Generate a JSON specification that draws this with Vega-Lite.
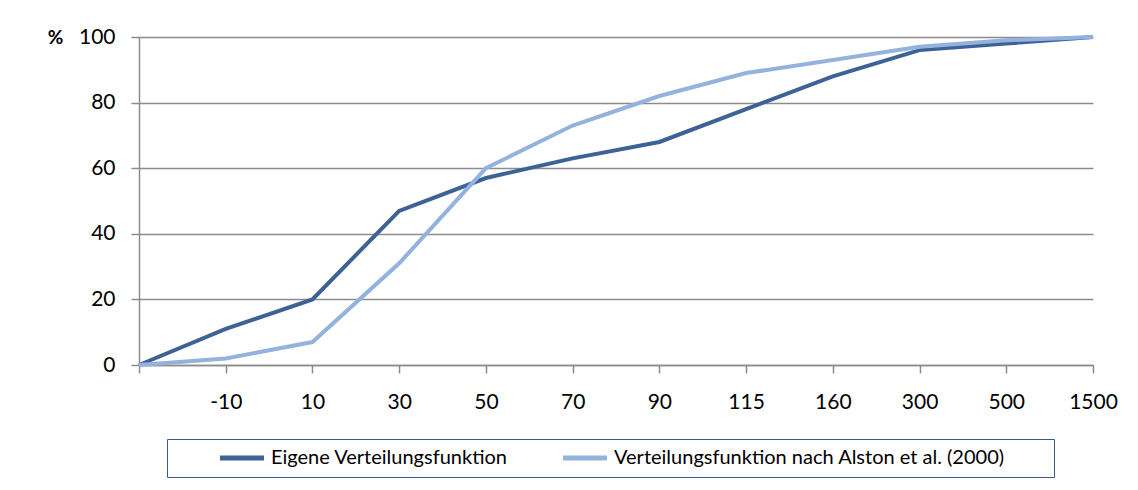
{
  "$schema": "https://vega.github.io/schema/vega-lite/v6.json",
  "width": 954,
  "height": 328,
  "autosize": "none",
  "padding": {"left": 139, "top": 37, "right": 45, "bottom": 125},
  "background": "white",
  "config": {
    "view": {"stroke": null},
    "font": "Lato",
    "axis": {
      "labelFont": "Lato",
      "labelFontSize": 21,
      "labelColor": "#000000",
      "domainColor": "#8c8c8c",
      "tickColor": "#8c8c8c",
      "gridColor": "#8c8c8c",
      "domainWidth": 1.5,
      "tickWidth": 1.5,
      "gridWidth": 1.5,
      "tickSize": 8
    }
  },
  "data": {
    "values": [
      {"x": "", "series": "Eigene Verteilungsfunktion", "p": 0},
      {"x": "-10", "series": "Eigene Verteilungsfunktion", "p": 11},
      {"x": "10", "series": "Eigene Verteilungsfunktion", "p": 20},
      {"x": "30", "series": "Eigene Verteilungsfunktion", "p": 47},
      {"x": "50", "series": "Eigene Verteilungsfunktion", "p": 57},
      {"x": "70", "series": "Eigene Verteilungsfunktion", "p": 63},
      {"x": "90", "series": "Eigene Verteilungsfunktion", "p": 68},
      {"x": "115", "series": "Eigene Verteilungsfunktion", "p": 78},
      {"x": "160", "series": "Eigene Verteilungsfunktion", "p": 88},
      {"x": "300", "series": "Eigene Verteilungsfunktion", "p": 96},
      {"x": "500", "series": "Eigene Verteilungsfunktion", "p": 98},
      {"x": "1500", "series": "Eigene Verteilungsfunktion", "p": 100},
      {"x": "", "series": "Verteilungsfunktion nach Alston et al. (2000)", "p": 0},
      {"x": "-10", "series": "Verteilungsfunktion nach Alston et al. (2000)", "p": 2},
      {"x": "10", "series": "Verteilungsfunktion nach Alston et al. (2000)", "p": 7},
      {"x": "30", "series": "Verteilungsfunktion nach Alston et al. (2000)", "p": 31},
      {"x": "50", "series": "Verteilungsfunktion nach Alston et al. (2000)", "p": 60},
      {"x": "70", "series": "Verteilungsfunktion nach Alston et al. (2000)", "p": 73},
      {"x": "90", "series": "Verteilungsfunktion nach Alston et al. (2000)", "p": 82},
      {"x": "115", "series": "Verteilungsfunktion nach Alston et al. (2000)", "p": 89},
      {"x": "160", "series": "Verteilungsfunktion nach Alston et al. (2000)", "p": 93},
      {"x": "300", "series": "Verteilungsfunktion nach Alston et al. (2000)", "p": 97},
      {"x": "500", "series": "Verteilungsfunktion nach Alston et al. (2000)", "p": 99},
      {"x": "1500", "series": "Verteilungsfunktion nach Alston et al. (2000)", "p": 100}
    ]
  },
  "mark": {"type": "line", "strokeWidth": 4, "strokeJoin": "miter"},
  "encoding": {
    "x": {
      "field": "x",
      "type": "ordinal",
      "scale": {
        "type": "point",
        "padding": 0,
        "domain": ["", "-10", "10", "30", "50", "70", "90", "115", "160", "300", "500", "1500"]
      },
      "axis": {
        "title": null,
        "labelAngle": 0,
        "labelPadding": 18,
        "grid": false
      }
    },
    "y": {
      "field": "p",
      "type": "quantitative",
      "scale": {"domain": [0, 100], "nice": false},
      "axis": {
        "values": [0, 20, 40, 60, 80, 100],
        "grid": true,
        "labelPadding": 16,
        "title": "%",
        "titleAngle": 0,
        "titleFont": "Lato",
        "titleFontSize": 19,
        "titleFontWeight": "bold",
        "titleAlign": "center",
        "titleBaseline": "middle",
        "titleX": -84,
        "titleY": 0
      }
    },
    "color": {
      "field": "series",
      "type": "nominal",
      "scale": {
        "domain": ["Eigene Verteilungsfunktion", "Verteilungsfunktion nach Alston et al. (2000)"],
        "range": ["#3d6396", "#93b3de"]
      },
      "legend": {
        "title": "\u00a0",
        "titleOrient": "right",
        "titlePadding": 40,
        "titleFontSize": 20,
        "orient": "none",
        "legendX": 28,
        "legendY": 402,
        "direction": "horizontal",
        "columns": 2,
        "columnPadding": 11,
        "symbolType": "M-4,0H4",
        "symbolStrokeWidth": 5,
        "symbolSize": 121,
        "symbolOffset": 56,
        "labelFont": "Lato",
        "labelFontSize": 20,
        "labelColor": "#000000",
        "labelOffset": 19,
        "labelLimit": 500,
        "padding": 9,
        "strokeColor": "#3d5a84",
        "fillColor": "white"
      }
    }
  }
}
